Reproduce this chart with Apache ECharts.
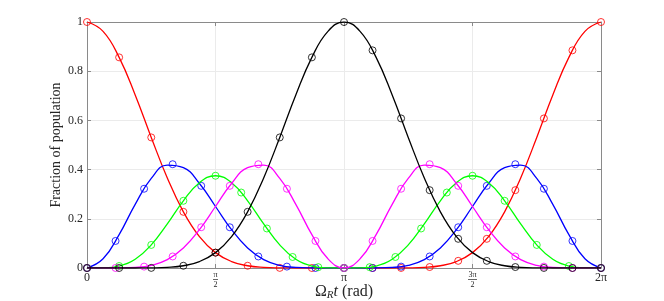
<!DOCTYPE html>
<html><head><meta charset="utf-8">
<script src="https://cdn.jsdelivr.net/npm/echarts@6/dist/echarts.min.js"></script>
<style>html,body{margin:0;padding:0;background:#fff}#c{width:664px;height:301px}</style>
</head><body><div id="c"></div><script>
// x values in units of pi (t / pi)
const lineT = [0,0.0625,0.125,0.1875,0.25,0.3125,0.375,0.4375,0.5,0.5625,0.625,0.6875,0.75,0.8125,0.875,0.9375,1,
  1.0625,1.125,1.1875,1.25,1.3125,1.375,1.4375,1.5,1.5625,1.625,1.6875,1.75,1.8125,1.875,1.9375,2];
const redLine = [1,0.9621,0.8562,0.7032,0.5308,0.3660,0.2284,0.1275,0.0625,0.0262,0.0091,0.0024,0.0005,0.0001,0,0,0,
  0,0,0.0001,0.0005,0.0024,0.0091,0.0262,0.0625,0.1275,0.2284,0.3660,0.5308,0.7032,0.8562,0.9621,1];
const blueLine = [0,0.0373,0.1355,0.2589,0.3643,0.4182,0.4080,0.3435,0.25,0.1558,0.0813,0.0341,0.0107,0.0022,0.0002,0,0,
  0,0.0002,0.0022,0.0107,0.0341,0.0813,0.1558,0.25,0.3435,0.4080,0.4182,0.3643,0.2589,0.1355,0.0373,0];
const greenLine = [0,0.0005,0.0080,0.0357,0.0938,0.1792,0.2732,0.3470,0.375,0.3470,0.2732,0.1792,0.0938,0.0357,0.0080,0.0005,0,
  0.0005,0.0080,0.0357,0.0938,0.1792,0.2732,0.3470,0.375,0.3470,0.2732,0.1792,0.0938,0.0357,0.0080,0.0005,0];
const magentaLine = [0,0,0.0002,0.0022,0.0107,0.0341,0.0813,0.1558,0.25,0.3435,0.4080,0.4182,0.3643,0.2589,0.1355,0.0373,0,
  0.0373,0.1355,0.2589,0.3643,0.4182,0.4080,0.3435,0.25,0.1558,0.0813,0.0341,0.0107,0.0022,0.0002,0,0];
const blackLine = [0,0,0,0.0001,0.0005,0.0024,0.0091,0.0262,0.0625,0.1275,0.2284,0.3660,0.5308,0.7032,0.8562,0.9621,1,
  0.9621,0.8562,0.7032,0.5308,0.3660,0.2284,0.1275,0.0625,0.0262,0.0091,0.0024,0.0005,0.0001,0,0,0];

// marker samples
const bmT = [0,0.1111,0.2222,0.3333,0.4444,0.5556,0.6667,0.7778,0.8889,1,1.1111,1.2222,1.3333,1.4444,1.5556,1.6667,1.7778,1.8889,2];
const blueMk = [0,0.1100,0.3222,0.4219,0.3340,0.1656,0.0469,0.0057,0.0001,0,0.0001,0.0057,0.0469,0.1656,0.3340,0.4219,0.3222,0.1100,0];
const magentaMk = [0,0.0001,0.0057,0.0469,0.1656,0.3340,0.4219,0.3222,0.1100,0,0.1100,0.3222,0.4219,0.3340,0.1656,0.0469,0.0057,0.0001,0];
const rkT = [0,0.125,0.25,0.375,0.5,0.625,0.75,0.875,1,1.1111,1.2222,1.3333,1.4444,1.5556,1.6667,1.7778,1.8889,2];
const redMk = [1,0.8562,0.5308,0.2284,0.0625,0.0091,0.0005,0,0,0,0.0002,0.0039,0.0291,0.1186,0.3164,0.6080,0.8848,1];
const blackMk = [0,0,0.0005,0.0091,0.0625,0.2284,0.5308,0.8562,1,0.8848,0.6080,0.3164,0.1186,0.0291,0.0039,0.0002,0,0];
const gT = [0,0.125,0.25,0.375,0.5,0.6,0.7,0.8,0.9,1,1.1,1.2,1.3,1.4,1.5,1.625,1.75,1.875,2];
const greenMk = [0,0.0080,0.0938,0.2732,0.375,0.3068,0.1606,0.0448,0.0034,0,0.0034,0.0448,0.1606,0.3068,0.375,0.2732,0.0938,0.0080,0];

const xTickLabels = ['0','π/2','π','3π/2','2π'];
const yTickLabels = ['0','0.2','0.4','0.6','0.8','1'];
const xTitle = ['Ω','R','t',' (rad)'];
const yTitle = 'Fraction of population';

const FONT = 'Liberation Serif';
const AX = '#8a8a8a', TXT = '#262626', GRID = '#ebebeb';

function zip(a,b){ return a.map((v,i)=>[v,b[i]]); }
function xLab(v){
  const s = xTickLabels[Math.round(v/0.5)];
  if (s === undefined) return '';
  if (s.indexOf('/') >= 0) {
    const p = s.split('/');
    return '{n|' + p[0] + '}\n{b' + p[0].length + '| }\n{d|' + p[1] + '}';
  }
  return '{m|' + s + '}';
}
function yLab(v){ const s = yTickLabels[Math.round(v/0.2)]; return s === undefined ? '' : s; }

const colors = {red:'#ff0000', blue:'#0000ff', green:'#00ff00', magenta:'#ff00ff', black:'#000000'};
const groups = [
  ['red', redLine, rkT, redMk],
  ['blue', blueLine, bmT, blueMk],
  ['green', greenLine, gT, greenMk],
  ['magenta', magentaLine, bmT, magentaMk],
  ['black', blackLine, rkT, blackMk]
];
const series = [];
groups.forEach((g, i) => {
  const c = colors[g[0]];
  series.push({type:'line', data: zip(lineT, g[1]), smooth:0.45, showSymbol:false, symbol:'none',
    lineStyle:{color:c, width:1.3}, z: 2 + i*2, silent:true});
  series.push({type:'scatter', data: zip(g[2], g[3]), symbol:'circle', symbolSize:7,
    itemStyle:{color:'rgba(0,0,0,0)', borderColor:c, borderWidth:1}, z: 3 + i*2, silent:true});
});

const chart = echarts.init(document.getElementById('c'));
chart.setOption({
  animation:false,
  backgroundColor:'#ffffff',
  grid:{left:87, right:63, top:22, bottom:33, containLabel:false, outerBoundsMode:'none'},
  xAxis:[{
    type:'value', min:0, max:2, interval:0.5, position:'bottom',
    axisLine:{show:true, onZero:false, lineStyle:{color:AX, width:1}},
    axisTick:{show:true, inside:true, length:4, lineStyle:{color:AX}},
    splitLine:{show:true, lineStyle:{color:GRID, width:1}},
    axisLabel:{formatter:xLab, margin:3, color:TXT, fontFamily:FONT, fontSize:12,
      rich:{
        m:{fontFamily:FONT, fontSize:12, color:TXT, lineHeight:14},
        n:{fontFamily:FONT, fontSize:8, color:TXT, lineHeight:7, align:'center'},
        d:{fontFamily:FONT, fontSize:8, color:TXT, lineHeight:8, align:'center'},
        b1:{fontSize:1, width:5, height:0.7, lineHeight:3, backgroundColor:TXT, align:'center'},
        b2:{fontSize:1, width:9, height:0.7, lineHeight:3, backgroundColor:TXT, align:'center'}
      }},
    name: '{u|' + xTitle[0] + '}{s|' + xTitle[1] + '}{i|' + xTitle[2] + '}{u|' + xTitle[3] + '}',
    nameLocation:'middle', nameGap:15, nameMoveOverlap:false,
    nameTextStyle:{color:TXT, fontFamily:FONT, fontSize:16,
      rich:{
        u:{fontFamily:FONT, fontSize:16, color:TXT, lineHeight:18},
        s:{fontFamily:FONT, fontSize:11, fontStyle:'italic', color:TXT, lineHeight:18, verticalAlign:'bottom', padding:[7,0,0,0]},
        i:{fontFamily:FONT, fontSize:16, fontStyle:'italic', color:TXT, lineHeight:18}
      }}
  },{
    type:'value', min:0, max:2, interval:0.5, position:'top',
    axisLine:{show:true, onZero:false, lineStyle:{color:AX, width:1}},
    axisTick:{show:true, inside:true, length:4, lineStyle:{color:AX}},
    axisLabel:{show:false}, splitLine:{show:false}
  }],
  yAxis:[{
    type:'value', min:0, max:1, interval:0.2, position:'left',
    axisLine:{show:true, onZero:false, lineStyle:{color:AX, width:1}},
    axisTick:{show:true, inside:true, length:4, lineStyle:{color:AX}},
    splitLine:{show:true, lineStyle:{color:GRID, width:1}},
    axisLabel:{formatter:yLab, margin:4, color:TXT, fontFamily:FONT, fontSize:12},
    name: yTitle, nameLocation:'middle', nameGap:24, nameMoveOverlap:false,
    nameTextStyle:{color:TXT, fontFamily:FONT, fontSize:14}
  },{
    type:'value', min:0, max:1, interval:0.2, position:'right',
    axisLine:{show:true, onZero:false, lineStyle:{color:AX, width:1}},
    axisTick:{show:true, inside:true, length:4, lineStyle:{color:AX}},
    axisLabel:{show:false}, splitLine:{show:false}
  }],
  series: series
});
</script></body></html>
